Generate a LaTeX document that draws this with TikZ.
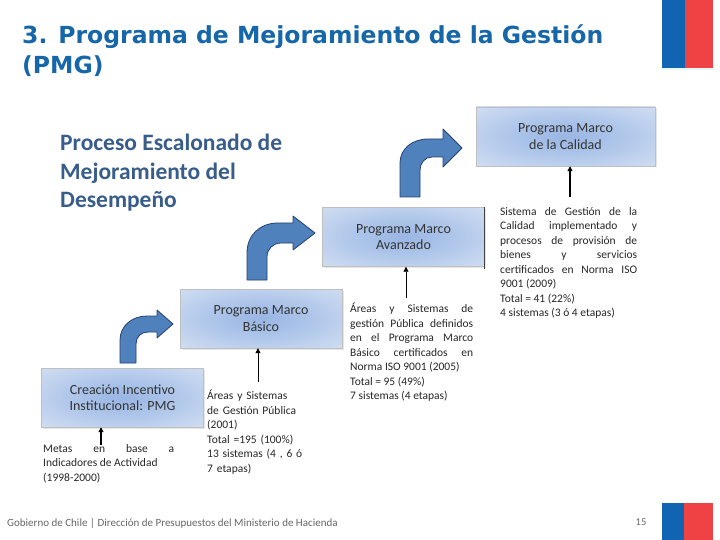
\documentclass[tikz,border=0pt]{standalone}
\usepackage{fontspec}
\setmainfont{Carlito}
\newfontfamily\titlefont{DejaVu Sans}
\usepackage{xcolor}
\usepackage{tikz}
\usetikzlibrary{arrows.meta, positioning, shadows}
\tolerance=10000
\hbadness=10000

\definecolor{titulo}{RGB}{22,102,170}
\definecolor{subtitulo}{RGB}{56,93,138}
\definecolor{flecha}{RGB}{79,129,189}
\definecolor{flechaborde}{RGB}{37,64,110}
\definecolor{azulbandera}{RGB}{16,100,178}
\definecolor{rojobandera}{RGB}{238,66,68}
\pgfdeclareradialshading{cajafondo}{\pgfpoint{0bp}{0bp}}{%
  rgb(0bp)=(0.60,0.71,0.89); rgb(12bp)=(0.66,0.76,0.91);
  rgb(36bp)=(0.82,0.87,0.95); rgb(50bp)=(0.91,0.94,0.98)}

\tikzset{
  caja/.style={rectangle, draw=black!25, shading=cajafondo,
    minimum width=162pt, minimum height=59pt, align=center, text=black!80,
    font=\fontsize{14}{16.5}\selectfont,
    drop shadow={opacity=0.2, shadow xshift=1.5pt, shadow yshift=-1.5pt}},
  nota/.style={anchor=north west, inner sep=0pt, text=black!85,
    font=\fontsize{11.5}{14.5}\selectfont},
  curva/.style={fill=flecha, draw=flechaborde, line width=0.8pt, line join=round},
  subida/.style={-{Triangle[length=5pt,width=5pt]}, black, line width=0.8pt},
}

\begin{document}
\begin{tikzpicture}[x=1pt, y=-1pt]
\useasboundingbox (0,0) rectangle (720,540);

% titulo y subtitulo
\node[anchor=base west, inner sep=0pt, text=titulo, font=\titlefont\bfseries\fontsize{23.5}{30}\selectfont] (tit1) at (22,44) {3. Programa de Mejoramiento de la Gestión};
\node[anchor=base west, inner sep=0pt, text=titulo, font=\titlefont\bfseries\fontsize{23.5}{30}\selectfont] (tit2) at ([yshift=-30pt]tit1.base west) {(PMG)};
\node[anchor=north west, inner sep=0pt, align=left, text=subtitulo, font=\bfseries\fontsize{23.5}{28.5}\selectfont] (proceso) at (60,134) {Proceso Escalonado de\\Mejoramiento del\\Desempeño};

% bandera
\fill[azulbandera] (662,0) rectangle (685,68);
\fill[rojobandera] (685,0) rectangle (713,68);
\fill[cyan!10] (662,68) rectangle (714,70);

% cajas
\node[caja] (creacion) at (122.5,397.5) {Creación Incentivo\\Institucional: PMG};
\node[caja] (basico) at (261,318.5) {Programa Marco\\Básico};
\node[caja] (avanzado) at (403.5,237) {Programa Marco\\Avanzado};
\node[caja, minimum width=179pt] (calidad) at (565.5,136.5) {Programa Marco\\de la Calidad};
\draw[black!75, line width=1pt] (avanzado.north east) -- ([yshift=-2pt]avanzado.south east);

% flechas curvas
\draw[curva] (120,363) -- (120,340) .. controls (120,326) and (132,316) .. (147,316) -- (157,316) -- (157,310) -- (173,324) -- (157,338) -- (157,332) -- (148,332) .. controls (141,332) and (136,337) .. (136,344) -- (136,363) -- cycle;
\draw[curva] (247,280) -- (247,253) .. controls (247,235) and (260,223) .. (278,223) -- (293,223) -- (293,216) -- (315,233) -- (293,250) -- (293,243) -- (281,243) .. controls (273,243) and (267,249) .. (267,257) -- (267,280) -- cycle;
\draw[curva] (400,197) -- (400,163) .. controls (400,149) and (412,139) .. (428,139) -- (443,139) -- (443,129) -- (462,148) -- (443,167) -- (443,157) -- (432,157) .. controls (425,157) and (420,163) .. (420,170) -- (420,197) -- cycle;

% notas
\node[nota, text width=131pt, align=justify] (metas) at (43,444) {Metas en base a\linebreak Indicadores de Actividad\\(1998-2000)};
\node[nota, text width=110pt, align=left] (areas1) at (207,390) {Áreas y Sistemas\\de Gestión Pública\\(2001)\\Total =195 (100\%)\\13 sistemas (4 , 6 ó\\7 etapas)};
\node[nota, text width=123pt, align=justify] (areas2) at (350,303) {Áreas y Sistemas de\linebreak gestión Pública definidos\linebreak en el Programa Marco\linebreak Básico certificados en\linebreak Norma ISO 9001 (2005)\\Total = 95 (49\%)\\7 sistemas (4 etapas)};
\node[nota, text width=137pt, align=justify] (sistema) at (500,207) {Sistema de Gestión de la\linebreak Calidad implementado y\linebreak procesos de provisión de\linebreak bienes y servicios\linebreak certificados en Norma ISO\linebreak 9001 (2009)\\Total = 41 (22\%)\\4 sistemas (3 ó 4 etapas)};

% flechas hacia las cajas
\coordinate (pa) at (101,445);
\coordinate (pb) at (258,382);
\coordinate (pc) at (406,298);
\coordinate (pd) at (570,197);
\draw[subida, line width=1.6pt] (pa) -- (pa |- creacion.south);
\draw[subida] (pb) -- (pb |- basico.south);
\draw[subida] (pc) -- (pc |- avanzado.south);
\draw[subida, line width=1.6pt] (pd) -- (pd |- calidad.south);

% pie
\node[anchor=west, inner sep=0pt, text=black!60, font=\fontsize{11}{13}\selectfont] (pie) at (7,523) {Gobierno de Chile | Dirección de Presupuestos del Ministerio de Hacienda};
\node[inner sep=0pt, text=black!60, font=\fontsize{10.5}{12}\selectfont] (pagina) at (641,522) {15};
\fill[azulbandera] (662,503) rectangle (684,540);
\fill[rojobandera] (684,503) rectangle (713,540);
\end{tikzpicture}
\end{document}
